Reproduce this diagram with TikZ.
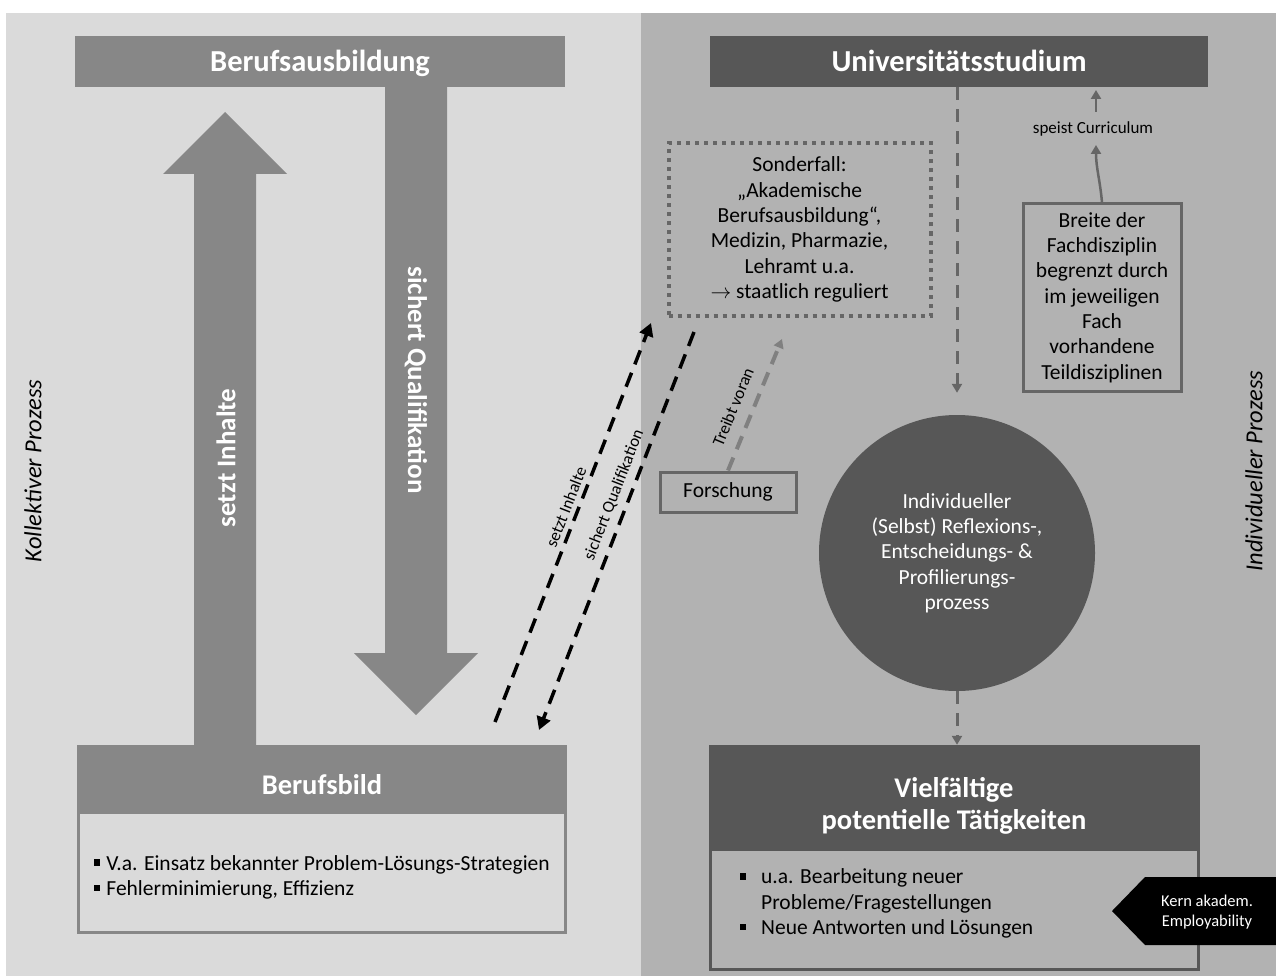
\documentclass[tikz,border=0pt]{standalone}
\usepackage{fontspec}
\setmainfont{Carlito}
\usetikzlibrary{arrows.meta,positioning}
\definecolor{lightpanel}{HTML}{DADADA}
\definecolor{darkpanel}{HTML}{B2B2B2}
\definecolor{midgray}{HTML}{878787}
\definecolor{deepgray}{HTML}{575757}
\definecolor{linegray}{HTML}{666666}
\tikzset{>={Triangle[width=10pt,length=9pt]}}
\tikzset{
  header/.style={inner sep=0pt, text=white, font=\fontsize{30.5}{32}\selectfont\bfseries, align=center},
  oneline/.style={text height=24pt, text depth=3pt},
  body/.style={font=\fontsize{21.5}{25.3}\selectfont, align=center},
  small/.style={font=\fontsize{17}{20}\selectfont},
  side/.style={font=\fontsize{24.5}{28}\selectfont\itshape},
  bigtext/.style={text=white, font=\fontsize{27}{30}\selectfont\bfseries},
  framebox/.style={draw=linegray, line width=3pt},
  blackdash/.style={->, >={Triangle[width=14pt,length=13pt]}, line width=3.5pt, dash pattern=on 15pt off 9pt, black},
  graydash/.style={->, line width=3pt, dash pattern=on 13pt off 9pt, linegray},
}
\newcommand\sqbul{\rule[0.2em]{0.3em}{0.3em}}

\begin{document}
\begin{tikzpicture}[x=1pt,y=-1pt]
\useasboundingbox (0,0) rectangle (1276,976);
% panels
\fill[lightpanel] (6,13) rectangle (641,976);
\fill[darkpanel] (641,13) rectangle (1276,976);

% top headers
\node (ausb) [header, oneline, fill=midgray, minimum width=490pt, minimum height=51pt] at (320,61.5) {Berufsausbildung};
\node (uni) [header, oneline, fill=deepgray, minimum width=498pt, minimum height=51pt] at (959,61.5) {Universitätsstudium};

% big arrows
\fill[midgray] (194,745) -- (194,174) -- (163,174) -- (225,112) -- (287,174) -- (256,174) -- (256,745) -- cycle;
\fill[midgray] (385,87) -- (385,653) -- (354,653) -- (416,715) -- (478,653) -- (447,653) -- (447,87) -- cycle;
\node (inhalte) [bigtext, rotate=90] at (226,458) {setzt Inhalte};
\node (quali) [bigtext, rotate=-90] at (416,380) {sichert Qualifikation};

% Berufsbild
\node (bild) [header, font=\fontsize{28.5}{32}\selectfont\bfseries, text height=31pt, text depth=0pt, fill=midgray, minimum width=490pt, minimum height=67pt] at (322,778.5) {Berufsbild};
\node (bildtxt) [below=-1.5pt of bild, draw=midgray, line width=3pt, fill=lightpanel, minimum width=487pt, minimum height=120pt] {};
\node (bildlist) [body, align=left, anchor=west] at ([xshift=13pt,yshift=-5pt]bildtxt.west)
  {\sqbul\hspace{0.3em}V.a. Einsatz bekannter Problem-Lösungs-Strategien\\
   \sqbul\hspace{0.3em}Fehlerminimierung, Effizienz};

% Vielfaeltige Taetigkeiten
\node (viel) [header, font=\fontsize{28.5}{32}\selectfont\bfseries, fill=deepgray, minimum width=491pt, minimum height=104pt] at (954,797) {\rule{0pt}{38pt}Vielfältige\\potentielle Tätigkeiten};
\node (vieltxt) [below=-1.5pt of viel, draw=deepgray, line width=3pt, minimum width=488pt, minimum height=120pt] {};
\node (viellist) [body, anchor=west, inner sep=0pt] at ([xshift=31pt,yshift=5pt]vieltxt.west)
  {\begin{tabular}{@{}l@{\hspace{0.7em}}l@{}}
   \sqbul & u.a. Bearbeitung neuer\\
          & Probleme/Fragestellungen\\
   \sqbul & Neue Antworten und Lösungen
   \end{tabular}};
\fill[black] (1112,911) -- (1145,877) -- (1276,877) -- (1276,945) -- (1145,945) -- cycle;
\node (kern) [small, font=\fontsize{16.5}{20}\selectfont, text=white, align=center] at (1207,912) {Kern akadem.\\Employability};

% Sonderfall
\node (sonder) [draw=linegray, line width=4pt, dash pattern=on 4pt off 5pt, minimum width=262pt, minimum height=172pt, body] at (799.5,229.5)
  {Sonderfall:\\„Akademische\\Berufsausbildung“,\\Medizin, Pharmazie,\\Lehramt u.a.\\$\rightarrow$ staatlich reguliert};

% Fachdisziplin
\node (breite) [framebox, minimum width=158pt, minimum height=187pt, body] at (1102,297.5)
  {Breite der\\Fachdisziplin\\begrenzt durch\\im jeweiligen\\Fach\\vorhandene\\Teildisziplinen};
\node (speist) [small] at (1093,129) {speist Curriculum};
\coordinate (speistin) at (1096,145);
\coordinate (speistout) at (1096,90);
\draw[->, linegray, line width=2.5pt] (breite.north) to[out=95,in=-90] (speistin);
\draw[->, linegray, line width=2.5pt] (1096,112) -- (speistout);

% Forschung
\node (forsch) [framebox, minimum width=136pt, minimum height=40pt, body] at (728,492) {Forschung};
\coordinate (voran) at (782,339);
\draw[->, line width=4pt, dash pattern=on 14pt off 9pt, gray] (forsch.north) -- (voran);
\node (voranlbl) [small, rotate=67.6] at (733,407) {Treibt voran};

% Selbstreflexion
\node (circ) [circle, fill=deepgray, minimum size=276pt, text=white, body] at (957,553)
  {Individueller\\(Selbst) Reflexions-,\\Entscheidungs- \&\\Profilierungs-\\prozess};
\draw[graydash] (uni.south -| circ.north) -- ([yshift=22pt]circ.north);
\draw[graydash] (circ.south) -- (viel.north -| circ.south);

% Verbindung Berufsbild - Sonderfall
\coordinate (inhfrom) at (495,722);
\coordinate (inhto) at (651,323);
\coordinate (qualfrom) at (694,332);
\coordinate (qualto) at (539,730);
\draw[blackdash] (inhfrom) -- (inhto);
\draw[blackdash] (qualfrom) -- (qualto);
\node (inhlbl) [small, rotate=68.7] at (566,507) {setzt Inhalte};
\node (quallbl) [small, rotate=68.7] at (614,495) {sichert Qualifikation};

% Prozesse
\node (kollektiv) [side, rotate=90] at (33,471) {Kollektiver Prozess};
\node (indiv) [side, rotate=90] at (1254,471) {Individueller Prozess};
\end{tikzpicture}
\end{document}
